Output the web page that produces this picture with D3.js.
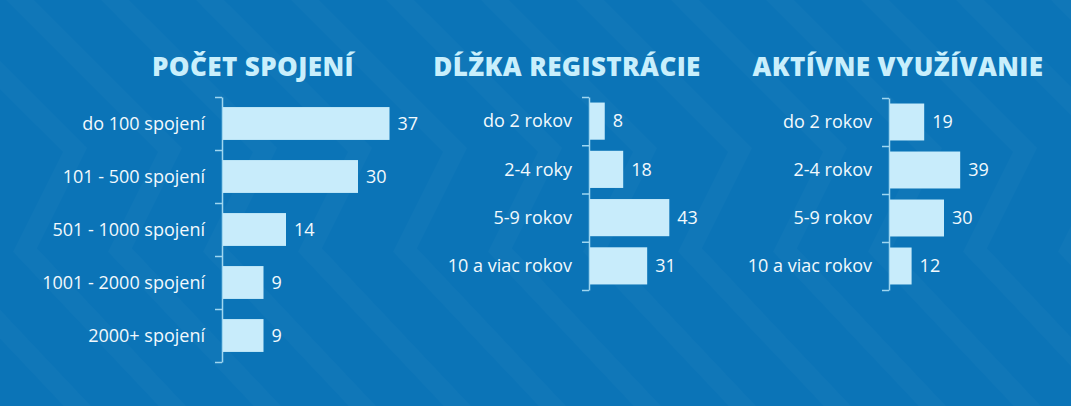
<!DOCTYPE html>
<html>
<head>
<meta charset="utf-8">
<script src="https://cdn.jsdelivr.net/npm/d3@7"></script>
<style>
  body { margin: 0; background: #0b74b7; }
  svg { display: block; }
</style>
</head>
<body>
<div id="chart"></div>
<script>
// data
const spojeniCategories = ["do 100 spojení", "101 - 500 spojení", "501 - 1000 spojení", "1001 - 2000 spojení", "2000+ spojení"];
const spojeniValues = [37, 30, 14, 9, 9];

const registraciaCategories = ["do 2 rokov", "2-4 roky", "5-9 rokov", "10 a viac rokov"];
const registraciaValues = [8, 18, 43, 31];

const vyuzivanieCategories = ["do 2 rokov", "2-4 rokov", "5-9 rokov", "10 a viac rokov"];
const vyuzivanieValues = [19, 39, 30, 12];

const titles = ["POČET SPOJENÍ", "DĹŽKA REGISTRÁCIE", "AKTÍVNE VYUŽÍVANIE"];

const width = 1071, height = 406;

const svg = d3.select("#chart").append("svg")
    .attr("width", width)
    .attr("height", height);

// background with faint zigzag stripes
svg.append("rect").attr("width", width).attr("height", height).attr("fill", "#0b74b7");
const zig = svg.append("g").attr("fill", "none").attr("stroke", "#ffffff").attr("stroke-opacity", 0.022).attr("stroke-width", 20);
for (let i = -8; i < 16; i++) {
    const x0 = i * 95;
    zig.append("polyline")
        .attr("points", [[x0, -20], [x0 + 170, 150], [x0 + 120, 250], [x0 + 290, 430]].map(p => p.join(",")).join(" "));
}

// layout of each panel
const panels = [
    { title: titles[0], titleX: 253, cats: spojeniCategories, vals: spojeniValues, axisX: 222, top: 97, bottom: 362, max: 40, span: 180, pad: 0.38 },
    { title: titles[1], titleX: 567, cats: registraciaCategories, vals: registraciaValues, axisX: 589, top: 97, bottom: 290, max: 45, span: 83, pad: 0.23 },
    { title: titles[2], titleX: 898, cats: vyuzivanieCategories, vals: vyuzivanieValues, axisX: 889, top: 98, bottom: 290, max: 40, span: 72, pad: 0.23 }
];

panels.forEach(p => {
    const g = svg.append("g");

    g.append("text")
        .attr("x", p.titleX)
        .attr("y", 76)
        .attr("text-anchor", "middle")
        .attr("font-family", "Open Sans")
        .attr("font-weight", 800)
        .attr("font-size", 26)
        .attr("letter-spacing", 0.4)
        .attr("fill", "#c9effc")
        .text(p.title);

    const x = d3.scaleLinear().domain([0, p.max]).range([p.axisX, p.axisX + p.span]);
    const y = d3.scaleBand().domain(p.cats).range([p.top, p.bottom]).paddingInner(p.pad).paddingOuter(p.pad / 2);
    const yEdges = d3.scaleLinear().domain([0, p.cats.length]).range([p.top, p.bottom]);

    // axis with ticks at band edges
    const axis = g.append("g")
        .attr("transform", `translate(${p.axisX},0)`)
        .call(d3.axisLeft(yEdges).tickValues(d3.range(p.cats.length + 1)).tickFormat("").tickSize(7).tickSizeOuter(0));
    axis.selectAll("line, path").attr("stroke", "#9fd6f0").attr("stroke-width", 1.5);

    g.selectAll(".bar")
        .data(p.vals)
        .enter()
        .append("rect")
        .attr("class", "bar")
        .attr("x", x(0) + 1)
        .attr("y", (d, i) => y(p.cats[i]))
        .attr("width", d => x(d) - x(0))
        .attr("height", y.bandwidth())
        .attr("fill", "#c8ecfb");

    g.selectAll(".cat")
        .data(p.cats)
        .enter()
        .append("text")
        .attr("x", p.axisX - 17)
        .attr("y", d => y(d) + y.bandwidth() / 2)
        .attr("dy", "0.35em")
        .attr("text-anchor", "end")
        .attr("font-family", "Open Sans")
        .attr("font-size", 18)
        .attr("fill", "#f2f9fd")
        .text(d => d);

    g.selectAll(".val")
        .data(p.vals)
        .enter()
        .append("text")
        .attr("x", d => x(d) + 9)
        .attr("y", (d, i) => y(p.cats[i]) + y.bandwidth() / 2)
        .attr("dy", "0.35em")
        .attr("font-family", "Open Sans")
        .attr("font-size", 18)
        .attr("fill", "#f2f9fd")
        .text(d => d);
});
</script>
</body>
</html>
